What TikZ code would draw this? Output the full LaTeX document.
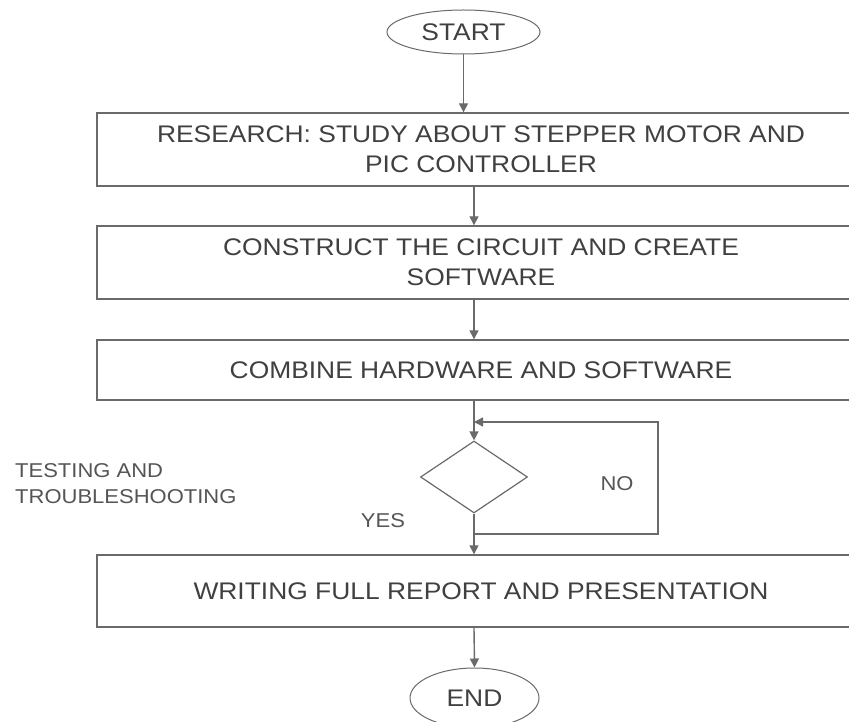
\documentclass[tikz,border=0pt]{standalone}
\usepackage{fontspec}
\setmainfont[FakeStretch=1.1]{Liberation Sans}
\usetikzlibrary{shapes.geometric,arrows.meta}
\definecolor{linegray}{HTML}{6A6A6A}
\definecolor{textgray}{HTML}{404040}
\definecolor{lighttext}{HTML}{555555}
\tikzset{
  flowline/.style={draw=linegray, line width=1.4pt},
  flowarrow/.style={flowline, -{Triangle[length=9pt,width=9pt]}},
  stepbox/.style={draw=linegray, line width=1.4pt, rectangle, minimum width=754pt, inner sep=0pt},
  boxtext/.style={text=textgray, align=center, font=\fontsize{24}{30}\selectfont, inner sep=0pt},
  terminal/.style={draw=linegray, line width=1pt, ellipse, text=textgray, font=\fontsize{24}{28}\selectfont, inner sep=0pt},
  decision/.style={draw=linegray, line width=1.2pt, diamond, minimum width=107pt, minimum height=72pt, inner sep=0pt},
  sidelabel/.style={text=lighttext, font=\fontsize{20}{26}\selectfont, inner sep=0pt}
}
\begin{document}
\begin{tikzpicture}[x=1pt,y=1pt]
\useasboundingbox (0,0) rectangle (849,721);
\fill[white] (0,0) rectangle (849,721);
\node[terminal, minimum width=153pt, minimum height=44pt] (start) at (463.5,689) {START};
\node[stepbox, minimum height=73pt] (box1) at (474,571.5) {};
\node[boxtext] (t1) at (481,571.5) {RESEARCH: STUDY ABOUT STEPPER MOTOR AND\\PIC CONTROLLER};
\node[stepbox, minimum height=73pt] (box2) at (474,458.5) {};
\node[boxtext] (t2) at (481,458.5) {CONSTRUCT THE CIRCUIT AND CREATE\\SOFTWARE};
\node[stepbox, minimum height=60pt] (box3) at (474,351) {};
\node[boxtext] (t3) at (481,351) {COMBINE HARDWARE AND SOFTWARE};
\node[decision] (dec) at (474,244) {};
\node[stepbox, minimum height=72pt] (box4) at (474,130) {};
\node[boxtext] (t4) at (481,130) {WRITING FULL REPORT AND PRESENTATION};
\node[terminal, minimum width=129pt, minimum height=60pt] (end) at (474.5,23) {END};
\coordinate (loopout) at (474,187);
\coordinate (loopcorner) at (658,187);
\coordinate (loopin) at (474,299);
\draw[flowarrow] (start.south) -- (start.south |- box1.north);
\draw[flowarrow] (box1.south) -- (box2.north);
\draw[flowarrow] (box2.south) -- (box3.north);
\draw[flowarrow] (box3.south) -- (dec.north);
\draw[flowarrow] (dec.south) -- (box4.north);
\draw[flowarrow] (box4.south) -- (end.north);
\draw[flowarrow] (loopout) -- (loopcorner) |- (loopin);
\node[sidelabel] (no) at (617,237) {NO};
\node[sidelabel] (yes) at (383,200) {YES};
\node[sidelabel, anchor=west, align=left] (test) at (15,237) {TESTING AND\\TROUBLESHOOTING};
\end{tikzpicture}
\end{document}
